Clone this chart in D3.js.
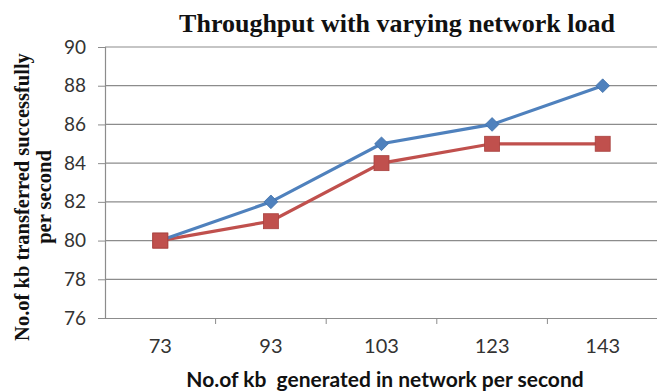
<!DOCTYPE html>
<html>
<head>
<meta charset="utf-8">
<script src="https://cdn.jsdelivr.net/npm/d3@7"></script>
<style>
  html, body { margin: 0; padding: 0; background: #fff; }
  svg { display: block; }
</style>
</head>
<body>
<svg id="chart" width="657" height="391"></svg>
<script>
// Network load (kb generated per second) and throughput of the two series
const categories = ["73", "93", "103", "123", "143"];
const seriesA = [80, 82, 85, 86, 88];
const seriesB = [80, 81, 84, 85, 85];
const yTicks = [76, 78, 80, 82, 84, 86, 88, 90];

const svg = d3.select("#chart");
const margin = { left: 105, right: -1, top: 47, bottom: 73 };
const W = 657, H = 391;
const tickFont = "Lato, 'Open Sans', sans-serif";
const serif = "'Liberation Serif', 'Times New Roman', serif";
const sq = 15;

const x = d3.scaleBand().domain(categories)
  .range([margin.left, W - margin.right]).paddingInner(0).paddingOuter(0);
const y = d3.scaleLinear().domain([76, 90]).range([H - margin.bottom, margin.top]);

// Horizontal gridlines
svg.append("g").selectAll("line").data(yTicks.filter(d => d !== 76)).join("line")
  .attr("x1", margin.left).attr("x2", W)
  .attr("y1", d => y(d)).attr("y2", d => y(d))
  .attr("stroke", "#8c8c8c").attr("stroke-width", 1.2);

// Y axis
const yAxis = svg.append("g").attr("transform", `translate(${margin.left},0)`)
  .call(d3.axisLeft(y).tickValues(yTicks).tickSize(7).tickPadding(12));
yAxis.select(".domain").attr("stroke", "#8c8c8c").attr("stroke-width", 1.2);
yAxis.selectAll(".tick line").attr("stroke", "#8c8c8c");
yAxis.selectAll("text").attr("font-family", tickFont)
  .attr("font-size", 19).attr("fill", "#333");

// X axis with ticks at category boundaries
const xAxis = svg.append("g").attr("transform", `translate(0,${y(76)})`)
  .call(d3.axisBottom(x).tickSize(0).tickPadding(21));
xAxis.select(".domain").attr("stroke", "#8c8c8c").attr("stroke-width", 1.2);
xAxis.selectAll("text").attr("font-family", tickFont)
  .attr("font-size", 20).attr("fill", "#333");
svg.append("g").selectAll("line").data(categories.slice(1)).join("line")
  .attr("x1", d => x(d)).attr("x2", d => x(d))
  .attr("y1", y(76)).attr("y2", y(76) + 6)
  .attr("stroke", "#8c8c8c");

const cx = d => x(d) + x.bandwidth() / 2;
const line = d3.line().x((d, i) => cx(categories[i])).y(d => y(d));

// Series B (squares)
svg.append("path").datum(seriesB).attr("d", line)
  .attr("fill", "none").attr("stroke", "#c0504d").attr("stroke-width", 3.2);
// Series A (diamonds)
svg.append("path").datum(seriesA).attr("d", line)
  .attr("fill", "none").attr("stroke", "#4f81bd").attr("stroke-width", 3.2);

svg.append("g").selectAll("rect").data(seriesB).join("rect")
  .attr("x", (d, i) => cx(categories[i]) - sq / 2).attr("y", d => y(d) - sq / 2)
  .attr("width", sq).attr("height", sq)
  .attr("fill", "#c0504d").attr("stroke", "#a8423f").attr("stroke-width", 0.8);

svg.append("g").selectAll("path").data(seriesA).join("path")
  .attr("d", d3.symbol(d3.symbolDiamond2, 120))
  .attr("transform", (d, i) => `translate(${cx(categories[i])},${y(d)})`)
  .attr("fill", "#4f81bd").attr("stroke", "#3d6ea8").attr("stroke-width", 0.8);

// Redraw the shared first point so the square sits on top
svg.append("rect")
  .attr("x", cx(categories[0]) - sq / 2).attr("y", y(seriesB[0]) - sq / 2)
  .attr("width", sq).attr("height", sq)
  .attr("fill", "#c0504d").attr("stroke", "#a8423f").attr("stroke-width", 0.8);

// Title
svg.append("text").attr("x", 397).attr("y", 32).attr("text-anchor", "middle")
  .attr("font-family", serif)
  .attr("font-weight", "bold").attr("font-size", 26).attr("fill", "#111")
  .text("Throughput with varying network load");

// Y axis title (two lines)
const yt = svg.append("text")
  .attr("transform", "translate(29,197) rotate(-90)")
  .attr("text-anchor", "middle")
  .attr("font-family", serif)
  .attr("font-weight", "bold").attr("font-size", 20.5).attr("fill", "#111");
yt.append("tspan").attr("x", 0).attr("dy", 0).text("No.of kb transferred successfully");
yt.append("tspan").attr("x", 0).attr("dy", 22).text("per second");

// X axis title
svg.append("text").attr("x", 385).attr("y", 387).attr("text-anchor", "middle")
  .attr("font-family", tickFont)
  .attr("font-weight", "bold").attr("font-size", 21).attr("fill", "#111")
  .attr("xml:space", "preserve")
  .text("No.of kb  generated in network per second");
</script>
</body>
</html>
